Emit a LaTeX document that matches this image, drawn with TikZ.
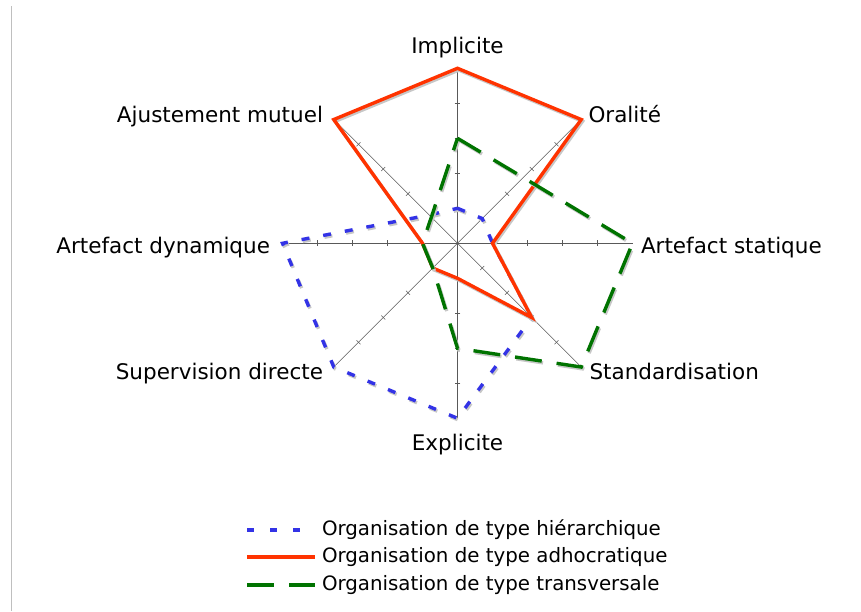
\documentclass[tikz,border=0pt]{standalone}
\usepackage{fontspec}
\setmainfont{DejaVu Sans}

\begin{document}
\begin{tikzpicture}[x=1pt,y=1pt,
  axisline/.style={draw=gray!70!black,line width=0.6pt},
  tickmark/.style={draw=gray!70!black,line width=0.5pt},
  shadowed/.style={preaction={draw=black!22,line width=3.4pt,#1,
    transform canvas={shift={(1.3pt,-1.8pt)}}}},
  serieshier/.style={draw=blueColor,line width=3.4pt,dash pattern=on 8pt off 14pt,
    shadowed={dash pattern=on 8pt off 14pt}},
  seriesadho/.style={draw=redColor,line width=3.4pt,line join=miter,
    shadowed={line join=miter}},
  seriestrans/.style={draw=greenColor,line width=3.4pt,dash pattern=on 27pt off 15pt,
    shadowed={dash pattern=on 27pt off 15pt}},
  axislabel/.style={inner sep=0pt,outer sep=0pt,font=\fontsize{21.5}{24}\selectfont},
  legendlabel/.style={anchor=west,inner sep=0pt,outer sep=0pt,font=\fontsize{19.8}{23}\selectfont}]
\definecolor{blueColor}{RGB}{51,51,230}
\definecolor{redColor}{RGB}{255,51,0}
\definecolor{greenColor}{RGB}{0,115,0}
\path[use as bounding box,fill=white] (0,0) rectangle (861,611);

% left rule
\path[draw=black!25,line width=1pt] (11.3,0) -- (11.3,605);

\begin{scope}[shift={(457.5,367.7)}]
\coordinate (centre) at (0,0);
% spokes and ticks
\foreach \a in {0,45,...,315}{
  \coordinate (end\a) at (\a:175);
  \path[axisline] (centre) -- (end\a);
  \foreach \r in {35,70,105,140}
    \path[tickmark] ([shift={(\a+90:2.8)}]\a:\r) -- ([shift={(\a-90:2.8)}]\a:\r);
}

% Organisation de type hierarchique
\path[serieshier] (90:35) -- (45:35) -- (0:35) -- (-45:105) -- (-90:175) --
	(-135:175) -- (180:175) -- (135:40) -- cycle;

% Organisation de type adhocratique
\path[seriesadho] (90:175) -- (45:175) -- (0:35) -- (-45:105) -- (-90:35) --
	(-135:35) -- (180:35) -- (135:175) -- cycle;

% Organisation de type transversale
\path[seriestrans] (90:105) -- (45:93) -- (0:175) -- (-45:175) -- (-90:105) --
	(-135:35) -- (180:35) -- (135:37) -- cycle;
\end{scope}

% axis labels
\node[axislabel,anchor=base] (implicite) at (457.5,557.7) {Implicite};
\node[axislabel,anchor=base west] (oralite) at (588.5,488.3) {Oralité};
\node[axislabel,anchor=base west] (statique) at (641,357.7) {Artefact statique};
\node[axislabel,anchor=base west] (standard) at (589.5,232) {Standardisation};
\node[axislabel,anchor=base] (explicite) at (457.5,161) {Explicite};
\node[axislabel,anchor=base east] (supervision) at (323,231.5) {Supervision directe};
\node[axislabel,anchor=base east] (dynamique) at (270,357.7) {Artefact dynamique};
\node[axislabel,anchor=base east] (ajustement) at (323,488.3) {Ajustement mutuel};

% legend
\coordinate (kh1) at (247,81);   \coordinate (kh2) at (315,81);
\coordinate (ka1) at (247,54);   \coordinate (ka2) at (315,54);
\coordinate (kt1) at (247,26);   \coordinate (kt2) at (315,26);
\path[draw=blueColor,line width=3.4pt,dash pattern=on 7pt off 16pt] (kh1) -- (kh2);
\path[draw=redColor,line width=3.4pt] (ka1) -- (ka2);
\path[draw=greenColor,line width=3.4pt,dash pattern=on 27pt off 15pt] (kt1) -- (kt2);
\node[legendlabel] (leghier) at (322,81) {Organisation de type hiérarchique};
\node[legendlabel] (legadho) at (322,54) {Organisation de type adhocratique};
\node[legendlabel] (legtrans) at (322,26) {Organisation de type transversale};
\end{tikzpicture}
\end{document}
